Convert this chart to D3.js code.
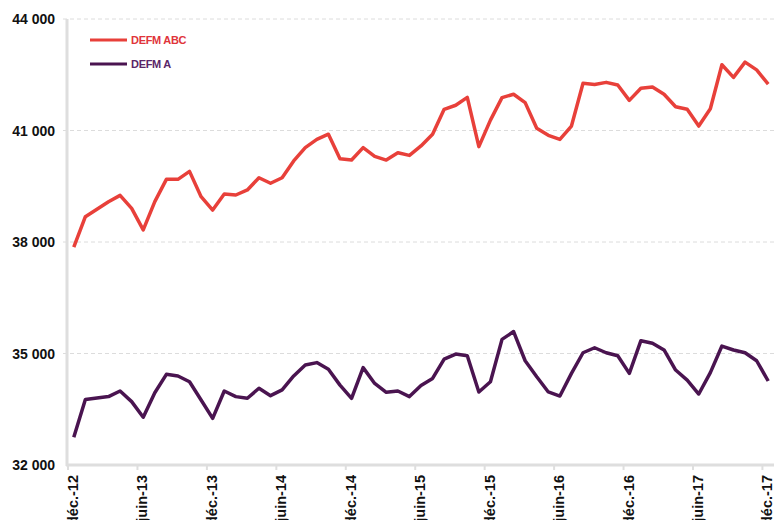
<!DOCTYPE html>
<html lang="fr">
<head>
    <meta charset="UTF-8">
    <title>DEFM ABC / DEFM A</title>
    <style>
        body { margin: 0; background: #fff; }
        svg text { font-family: "Liberation Sans", Arial, sans-serif; font-weight: bold; }
        .grid line { stroke: #dcdcdc; stroke-dasharray: 4,3; }
    </style>
</head>
<body>
    <div id="chart"></div>

    <script src="https://d3js.org/d3.v7.min.js"></script>
    <script>
        // monthly categories déc.-12 .. déc.-17
        const monthNames = ["janv.", "févr.", "mars", "avr.", "mai", "juin", "juil.", "août", "sept.", "oct.", "nov.", "déc."];
        const months = ["déc.-12"];
        for (let yr = 13; yr <= 17; yr++) {
            monthNames.forEach(m => months.push(m + "-" + yr));
        }

        const tickLabels = ["déc.-12", "juin-13", "déc.-13", "juin-14", "déc.-14", "juin-15", "déc.-15",
                            "juin-16", "déc.-16", "juin-17", "déc.-17"];
        const yTicks = [32000, 35000, 38000, 41000, 44000];

        const defmABC = [37860, 38680, 38880, 39085, 39255, 38905, 38325, 39085, 39685, 39685, 39900, 39220,
                         38860, 39290, 39265, 39400, 39730, 39580, 39730, 40180, 40540, 40760, 40900, 40240,
                         40205, 40540, 40305, 40205, 40400, 40330, 40585, 40900, 41570, 41680, 41890, 40565,
                         41280, 41885, 41975, 41750, 41060, 40870, 40760, 41120, 42270, 42240, 42295, 42225,
                         41810, 42135, 42170, 41975, 41640, 41570, 41120, 41585, 42770, 42430, 42840, 42630, 42250];
        const defmA = [32745, 33765, 33805, 33840, 33990, 33705, 33285, 33945, 34440, 34395, 34240, 33750,
                       33255, 33990, 33840, 33795, 34065, 33865, 34020, 34395, 34690, 34755, 34575, 34150,
                       33795, 34620, 34195, 33955, 33990, 33840, 34140, 34330, 34850, 34985, 34940, 33965,
                       34240, 35380, 35590, 34805, 34375, 33965, 33855, 34465, 35020, 35155, 35020, 34940,
                       34465, 35345, 35275, 35095, 34555, 34285, 33910, 34485, 35200, 35095, 35020, 34805, 34260];

        const series = [
            { name: "DEFM ABC", values: defmABC, color: "#e8403a", text: "#e0343a" },
            { name: "DEFM A", values: defmA, color: "#4a1450", text: "#5a2668" }
        ];

        const width = 776, height = 520;
        const margin = { left: 68, right: 774, top: 19, bottom: 465 };

        const svg = d3.select("#chart").append("svg")
            .attr("width", width)
            .attr("height", height);

        const x = d3.scaleBand().domain(months).range([margin.left, margin.right]);
        const y = d3.scaleLinear().domain([32000, 44000]).range([margin.bottom, margin.top]);
        const cx = d => x(d) + x.bandwidth() / 2;

        // gridlines
        svg.append("g").attr("class", "grid")
            .selectAll("line")
            .data(yTicks.slice(1))
            .enter().append("line")
            .attr("x1", margin.left - 5).attr("x2", margin.right)
            .attr("y1", d => y(d)).attr("y2", d => y(d));

        // y axis
        svg.append("line")
            .attr("x1", margin.left - 1).attr("x2", margin.left - 1)
            .attr("y1", margin.top).attr("y2", margin.bottom + 1)
            .attr("stroke", "#dedede").attr("stroke-width", 3);
        svg.selectAll(".ylab")
            .data(yTicks)
            .enter().append("text")
            .attr("class", "ylab")
            .attr("x", 55)
            .attr("y", d => y(d))
            .attr("dy", "0.36em")
            .attr("text-anchor", "end")
            .attr("font-size", 14)
            .attr("fill", "#111")
            .text(d => d3.format(",")(d).replace(",", " "));

        // x axis
        svg.append("line")
            .attr("x1", margin.left - 2).attr("x2", margin.right)
            .attr("y1", margin.bottom).attr("y2", margin.bottom)
            .attr("stroke", "#dedede").attr("stroke-width", 3);
        svg.selectAll(".xtick")
            .data(tickLabels)
            .enter().append("line")
            .attr("class", "xtick")
            .attr("x1", d => x(d)).attr("x2", d => x(d))
            .attr("y1", margin.bottom).attr("y2", margin.bottom + 5)
            .attr("stroke", "#dedede").attr("stroke-width", 2);
        svg.selectAll(".xlab")
            .data(tickLabels)
            .enter().append("text")
            .attr("class", "xlab")
            .attr("transform", d => `translate(${cx(d) - 1},${margin.bottom + 10}) rotate(-90)`)
            .attr("dy", "0.36em")
            .attr("text-anchor", "end")
            .attr("font-size", 14.5)
            .attr("fill", "#111")
            .text(d => d);

        // lines
        const line = d3.line()
            .x((d, i) => cx(months[i]))
            .y(d => y(d));

        svg.selectAll(".series")
            .data(series)
            .enter().append("path")
            .attr("class", "series")
            .attr("d", d => line(d.values))
            .attr("fill", "none")
            .attr("stroke", d => d.color)
            .attr("stroke-width", 3.5)
            .attr("stroke-linejoin", "round");

        // legend
        const legend = svg.selectAll(".legend")
            .data(series)
            .enter().append("g")
            .attr("class", "legend")
            .attr("transform", (d, i) => `translate(90,${40 + i * 24})`);
        legend.append("line")
            .attr("x1", 0).attr("x2", 37)
            .attr("stroke", d => d.color)
            .attr("stroke-width", 3);
        legend.append("text")
            .attr("x", 41)
            .attr("dy", "0.36em")
            .attr("font-size", 11)
            .attr("letter-spacing", -0.3)
            .attr("fill", d => d.text)
            .text(d => d.name);
    </script>
</body>
</html>
